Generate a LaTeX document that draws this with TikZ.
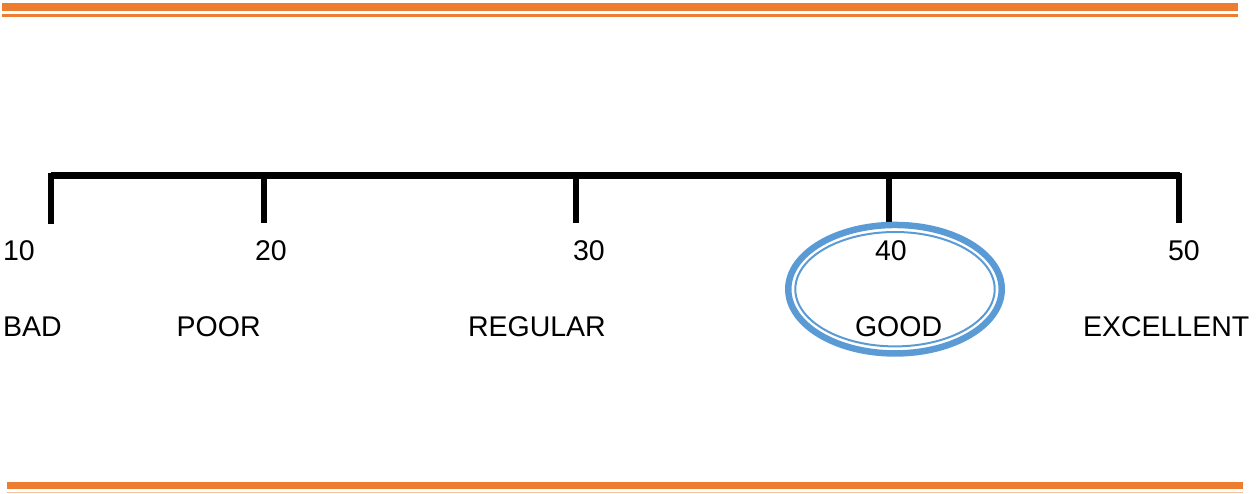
\documentclass[tikz,border=0pt]{standalone}
\usepackage{fontspec}
\setmainfont{Liberation Sans}
\definecolor{barorange}{HTML}{ED7D31}
\definecolor{ringblue}{HTML}{5B9BD5}
\begin{document}
\begin{tikzpicture}[x=1pt,y=-1pt,
  lbl/.style={anchor=base west,inner sep=0pt,outer sep=0pt,font=\fontsize{28.5}{34}\selectfont},
  axisline/.style={line width=6.5pt,black},
  tickline/.style={line width=6pt,black},
  rulefill/.style={fill=barorange,draw=none}]
\useasboundingbox (0,0) rectangle (1257,493);
% orange rules
\fill[rulefill] (2,3.3) rectangle (1238,11);
\fill[rulefill] (2,14) rectangle (1238,16.8);
\fill[rulefill] (7,482) rectangle (1243,489.3);
\fill[barorange!50] (7,491.8) rectangle (1243,493);
% axis
\coordinate (a0) at (50.7,175.5);
\coordinate (a1) at (1179.5,175.5);
\coordinate (t10) at (50.7,224);
\coordinate (t20) at (263.5,222.5);
\coordinate (t30) at (575.7,223);
\coordinate (t40) at (889,222);
\coordinate (t50) at (1179,223);
\draw[axisline] (a0) -- (a1);
\draw[tickline] (t10) -- (a0|-0,172.5);
\draw[tickline] (t20) -- (t20|-a0);
\draw[tickline] (t30) -- (t30|-a0);
\draw[tickline] (t40) -- (t40|-a0);
\draw[tickline] (t50) -- (t50|-0,172.5);
% labels
\node[lbl] (n10) at (3,260.7) {10};
\node[lbl] (n20) at (255,260.7) {20};
\node[lbl] (n30) at (573,260.7) {30};
\node[lbl] (n40) at (875,260.7) {40};
\node[lbl] (n50) at (1168,260.7) {50};
\node[lbl] (bad) at (3,336.7) {BAD};
\node[lbl] (poor) at (176.7,336.7) {POOR};
\node[lbl] (regular) at (468,336.7) {REGULAR};
\node[lbl] (good) at (855,336.7) {GOOD};
\node[lbl] (excellent) at (1083,336.7) {EXCELLENT};
% ring
\draw[ringblue,line width=6.5pt] (895,289.2) ellipse [x radius=106.75, y radius=64.25];
\draw[ringblue,line width=2pt] (895,289.2) ellipse [x radius=99.7, y radius=57.2];
\end{tikzpicture}
\end{document}
